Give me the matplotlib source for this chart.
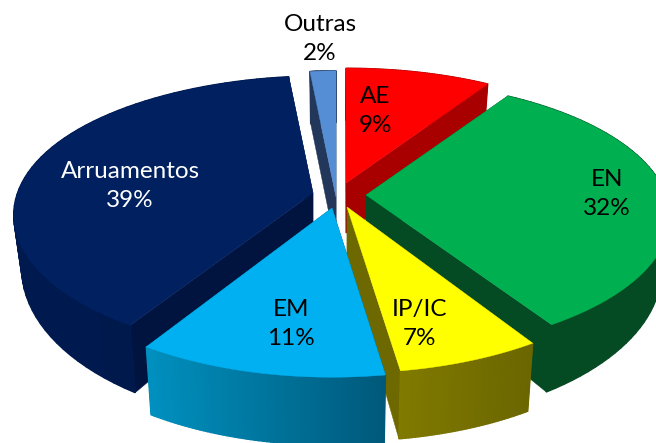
import numpy as np
import matplotlib
matplotlib.use('Agg')
import matplotlib.pyplot as plt

labels = ['AE', 'EN', 'IP/IC', 'EM', 'Arruamentos', 'Outras']
values = [9.0, 32.0, 6.6, 11.4, 39.0, 2.0]

top_colors = ['#ff0000', '#00b050', '#ffff00', '#00b0f0', '#002060', '#558ed5']
cut_colors = ['#a80000', '#044a22', '#6d6800', '#00506f', '#00143f', '#22375a']
wall_left = ['#a80000', '#044a22', '#807a00', '#0090bf', '#001a50', '#22375a']
wall_right = ['#a80000', '#044a22', '#6b6600', '#00597a', '#001748', '#22375a']
text_colors = ['black', 'black', 'black', 'black', 'white', 'black']

# where each slice sits after exploding (pixels) and how it is stretched
tip_x = [346, 366, 347, 332, 313, 336]
tip_y = [183, 195, 207, 208, 193, 197]
stretch_x = [1.0, 1.0, 1.0, 1.0, 0.985, 0.8]
stretch_y = [1.0, 1.0, 1.05, 1.07, 1.02, 1.1]
lean = [0, 0, 0, 0, 8, 0]
label_x = [375, 607, 420, 291, 130, 320]
label_y = [111, 194, 324, 324, 186, 39]
# back to front
order = [5, 4, 0, 1, 2, 3]

A = 300.0
B = 133.0
K = 0.159
SHRINK = 0.975
MID_X = 335.0


def top_point(i, theta):
    u = np.sin(theta)
    v = np.cos(theta)
    x = tip_x[i] + stretch_x[i] * A * u / (1 + K * v) + lean[i] * np.clip(v, 0, 1) ** 3
    y = tip_y[i] - stretch_y[i] * B * v / (1 + K * v)
    return x, y


def base_point(x, y):
    bx = MID_X + (np.asarray(x) - MID_X) * SHRINK
    by = np.asarray(y) + np.interp(y, [70, 190, 330], [52, 50, 68])
    return bx, by


fig = plt.figure(figsize=(6.56, 4.43), dpi=100)
ax = fig.add_axes([0, 0, 1, 1])
ax.set_xlim(0, 656)
ax.set_ylim(443, 0)
ax.axis('off')

edges = np.cumsum([0] + values) / sum(values) * 2 * np.pi

for i in order:
    th = np.linspace(edges[i], edges[i + 1], 60)
    x, y = top_point(i, th)
    bx, by = base_point(x, y)
    # cut faces
    for k in [0, -1]:
        qx = [tip_x[i], x[k], bx[k], tip_x[i]]
        qy = [tip_y[i], y[k], by[k], base_point(tip_x[i], tip_y[i])[1]]
        ax.fill(qx, qy, color=cut_colors[i], lw=0.3)
    # outer wall, strip by strip so it can carry the gradient
    c0 = np.array(matplotlib.colors.to_rgb(wall_left[i]))
    c1 = np.array(matplotlib.colors.to_rgb(wall_right[i]))
    lo, hi = min(x), max(x)
    for k in range(len(th) - 1):
        t = (0.5 * (x[k] + x[k + 1]) - lo) / (hi - lo)
        ax.fill([x[k], x[k + 1], bx[k + 1], bx[k]], [y[k], y[k + 1], by[k + 1], by[k]],
                color=c0 + (c1 - c0) * t, lw=1.0)
    # top
    ax.fill(np.r_[tip_x[i], x], np.r_[tip_y[i], y], color=top_colors[i], lw=0.3)

for i in range(len(labels)):
    ax.text(label_x[i], label_y[i], labels[i] + '\n' + str(round(values[i])) + '%', color=text_colors[i],
            ha='center', va='center', family='Lato', fontsize=17.5, linespacing=1.5)

fig.savefig('out.png', dpi=100)
